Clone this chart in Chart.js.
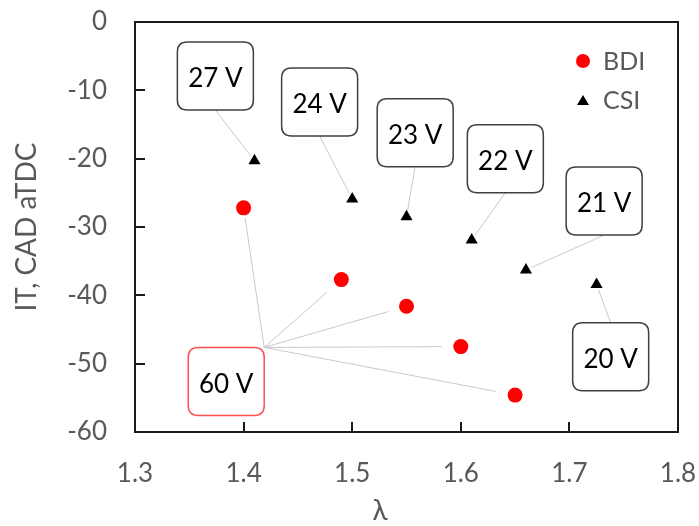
<!DOCTYPE html>
<html>
<head>
<meta charset="utf-8">
<script src="https://cdn.jsdelivr.net/npm/chart.js@4"></script>
<style>
  html, body { margin: 0; padding: 0; background: #fff; }
  #wrap { width: 699px; height: 526px; }
</style>
</head>
<body>
<div id="wrap"><canvas id="chart" width="699" height="526"></canvas></div>
<script>
// dados
const bdiLambda = [1.40, 1.49, 1.55, 1.60, 1.65]
const bdiIT = [-27.2, -37.7, -41.6, -47.5, -54.6]
const csiLambda = [1.41, 1.50, 1.55, 1.61, 1.66, 1.725]
const csiIT = [-20.3, -25.9, -28.5, -31.9, -36.3, -38.4]
const csiVolts = ['27 V', '24 V', '23 V', '22 V', '21 V', '20 V']
const bdiVolt = '60 V'
const xTicks = [1.3, 1.4, 1.5, 1.6, 1.7, 1.8]
const yTicks = [0, -10, -20, -30, -40, -50, -60]

// posicao das caixas de rotulo (em unidades dos eixos) e de onde sai a linha
const csiBoxes = [
    {x: 1.374, y: -7.9, from: 'bottom'},
    {x: 1.470, y: -11.7, from: 'bottom'},
    {x: 1.558, y: -16.2, from: 'bottom'},
    {x: 1.641, y: -20.0, from: 'bottom'},
    {x: 1.732, y: -26.2, from: 'bottom'},
    {x: 1.738, y: -49.0, from: 'top'}
]
const bdiBox = {x: 1.384, y: -52.6, from: 'corner'}

const FONT = 'Lato, "Open Sans", sans-serif'
const GRAY = '#595959'
const BOX_W = 76
const BOX_H = 68

function toPoints(xs, ys){
    return xs.map((x, i) => ({x: x, y: ys[i]}))
}

function roundRect(ctx, x, y, w, h, r){
    ctx.beginPath()
    ctx.moveTo(x + r, y)
    ctx.lineTo(x + w - r, y)
    ctx.quadraticCurveTo(x + w, y, x + w, y + r)
    ctx.lineTo(x + w, y + h - r)
    ctx.quadraticCurveTo(x + w, y + h, x + w - r, y + h)
    ctx.lineTo(x + r, y + h)
    ctx.quadraticCurveTo(x, y + h, x, y + h - r)
    ctx.lineTo(x, y + r)
    ctx.quadraticCurveTo(x, y, x + r, y)
    ctx.closePath()
}

// linha do rotulo ate o ponto, parando um pouco antes
function connector(ctx, sx, sy, px, py, gap){
    const dx = px - sx, dy = py - sy
    const len = Math.sqrt(dx * dx + dy * dy)
    ctx.beginPath()
    ctx.moveTo(sx, sy)
    ctx.lineTo(px - dx / len * gap, py - dy / len * gap)
    ctx.stroke()
}

function startPoint(cx, cy, from){
    if(from === 'top') return [cx, cy - BOX_H / 2]
    if(from === 'corner') return [cx + BOX_W / 2, cy - BOX_H / 2]
    return [cx, cy + BOX_H / 2]
}

function drawBox(ctx, cx, cy, text, color){
    ctx.fillStyle = '#fff'
    ctx.strokeStyle = color
    ctx.lineWidth = 1.5
    roundRect(ctx, cx - BOX_W / 2, cy - BOX_H / 2, BOX_W, BOX_H, 10)
    ctx.fill()
    ctx.stroke()
    ctx.fillStyle = '#000'
    ctx.font = '26px ' + FONT
    ctx.textAlign = 'center'
    ctx.textBaseline = 'middle'
    ctx.fillText(text, cx, cy + 3)
}

const extras = {
    id: 'extras',
    beforeDatasetsDraw(chart){
        const ctx = chart.ctx
        const xs = chart.scales.x, ys = chart.scales.y
        ctx.save()
        ctx.strokeStyle = '#c8c8c8'
        ctx.lineWidth = 1
        csiBoxes.forEach((b, i) => {
            const [sx, sy] = startPoint(xs.getPixelForValue(b.x), ys.getPixelForValue(b.y), b.from)
            connector(ctx, sx, sy, xs.getPixelForValue(csiLambda[i]), ys.getPixelForValue(csiIT[i]), 6)
        })
        const [bx, by] = startPoint(xs.getPixelForValue(bdiBox.x), ys.getPixelForValue(bdiBox.y), bdiBox.from)
        bdiLambda.forEach((l, i) => {
            connector(ctx, bx, by, xs.getPixelForValue(l), ys.getPixelForValue(bdiIT[i]), i === 0 ? 10 : 19)
        })
        ctx.restore()
    },
    afterDraw(chart){
        const ctx = chart.ctx
        const xs = chart.scales.x, ys = chart.scales.y
        const a = chart.chartArea
        ctx.save()

        // moldura e ticks para dentro
        ctx.strokeStyle = '#1a1a1a'
        ctx.lineWidth = 2
        ctx.strokeRect(a.left, a.top, a.right - a.left, a.bottom - a.top)
        ctx.beginPath()
        yTicks.forEach(v => {
            const p = Math.round(ys.getPixelForValue(v))
            ctx.moveTo(a.left, p)
            ctx.lineTo(a.left + 10, p)
        })
        xTicks.forEach(v => {
            const p = Math.round(xs.getPixelForValue(v))
            ctx.moveTo(p, a.bottom)
            ctx.lineTo(p, a.bottom - 10)
        })
        ctx.stroke()

        // caixas dos rotulos
        csiBoxes.forEach((b, i) => {
            drawBox(ctx, xs.getPixelForValue(b.x), ys.getPixelForValue(b.y), csiVolts[i], '#404040')
        })
        drawBox(ctx, xs.getPixelForValue(bdiBox.x), ys.getPixelForValue(bdiBox.y), bdiVolt, '#ff5050')

        // legenda
        const lx = a.right - 95
        ctx.fillStyle = '#ff0000'
        ctx.beginPath()
        ctx.arc(lx, a.top + 39, 7, 0, Math.PI * 2)
        ctx.fill()
        ctx.fillStyle = '#000'
        ctx.beginPath()
        ctx.moveTo(lx, a.top + 73)
        ctx.lineTo(lx + 6, a.top + 83)
        ctx.lineTo(lx - 6, a.top + 83)
        ctx.closePath()
        ctx.fill()
        ctx.fillStyle = GRAY
        ctx.font = '25px ' + FONT
        ctx.textAlign = 'left'
        ctx.textBaseline = 'middle'
        ctx.fillText('BDI', lx + 20, a.top + 40)
        ctx.fillText('CSI', lx + 20, a.top + 79)

        // titulo do eixo x
        ctx.font = '28px ' + FONT
        ctx.textAlign = 'center'
        ctx.fillText('λ', 380, 511)
        ctx.restore()
    }
}

const grafico = new Chart(document.querySelector('canvas#chart'), {
    type: 'scatter',
    data: {
        datasets: [{
            label: 'BDI',
            data: toPoints(bdiLambda, bdiIT),
            pointStyle: 'circle',
            pointRadius: 7.5,
            backgroundColor: '#ff0000',
            borderColor: '#ff0000',
            borderWidth: 0
        }, {
            label: 'CSI',
            data: toPoints(csiLambda, csiIT),
            pointStyle: 'triangle',
            pointRadius: 7,
            backgroundColor: '#000',
            borderColor: '#000',
            borderWidth: 0
        }]
    },
    options: {
        responsive: false,
        animation: false,
        layout: {
            padding: {top: 22, right: 21, left: 0, bottom: 0}
        },
        plugins: {
            legend: {display: false},
            tooltip: {enabled: false}
        },
        scales: {
            x: {
                type: 'linear',
                min: 1.3,
                max: 1.8,
                afterFit(scale){
                    scale.height = 94
                    scale.paddingLeft = 0
                    scale.paddingRight = 0
                },
                afterBuildTicks(scale){ scale.ticks = xTicks.map(v => ({value: v})) },
                grid: {display: false, drawTicks: false},
                border: {display: false},
                ticks: {
                    padding: 26,
                    color: GRAY,
                    font: {family: FONT, size: 26},
                    callback: v => v.toFixed(1)
                }
            },
            y: {
                type: 'linear',
                min: -60,
                max: 0,
                afterFit(scale){
                    scale.width = 135
                    scale.paddingTop = 0
                    scale.paddingBottom = 0
                },
                afterBuildTicks(scale){ scale.ticks = yTicks.map(v => ({value: v})) },
                grid: {display: false, drawTicks: false},
                border: {display: false},
                ticks: {
                    padding: 28,
                    color: GRAY,
                    font: {family: FONT, size: 26}
                },
                title: {
                    display: true,
                    text: 'IT, CAD aTDC',
                    color: GRAY,
                    font: {family: FONT, size: 28, lineHeight: 1.2},
                    padding: {top: 10, bottom: 0}
                }
            }
        }
    },
    plugins: [extras]
})
</script>
</body>
</html>
